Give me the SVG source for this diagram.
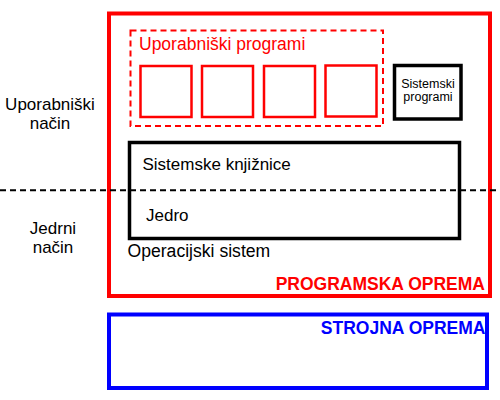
<svg xmlns="http://www.w3.org/2000/svg" width="500" height="400" viewBox="0 0 500 400">
<style>
text{font-family:"Liberation Sans",Arial,sans-serif;}
.lbl{font-size:17px;fill:#000;}
.mid{text-anchor:middle;}
.big{font-size:17.5px;font-weight:bold;text-anchor:end;}
.app{fill:#fff;stroke:#ff0000;stroke-width:2.5;}
.sp{font-size:12.5px;text-anchor:middle;}
</style>
<rect width="500" height="400" fill="#fff"/>
<g id="programska-oprema">
<rect x="109" y="13.5" width="381" height="282.5" fill="none" stroke="#ff0000" stroke-width="4"/>
<text class="big" x="485" y="290" fill="#ff0000">PROGRAMSKA OPREMA</text>
</g>
<g id="strojna-oprema">
<rect x="109" y="314.5" width="378" height="73.5" fill="none" stroke="#0000ff" stroke-width="4"/>
<text class="big" x="485.5" y="334" fill="#0000ff">STROJNA OPREMA</text>
</g>
<g id="uporabniski-programi">
<rect x="130.5" y="30.5" width="252.5" height="95.5" fill="none" stroke="#ff0000" stroke-width="2" stroke-dasharray="6,4"/>
<text x="139" y="50" style="font-size:17.5px" fill="#ff0000">Uporabniški programi</text>
</g>
<g id="app1"><rect class="app" x="140.5" y="66" width="51" height="51"/></g>
<g id="app2"><rect class="app" x="202" y="66" width="51" height="51"/></g>
<g id="app3"><rect class="app" x="264" y="66" width="51" height="51"/></g>
<g id="app4"><rect class="app" x="325.5" y="65.5" width="51" height="51"/></g>
<g id="sistemski-programi">
<rect x="394.5" y="65.5" width="66.5" height="53.5" fill="#fff" stroke="#000" stroke-width="3.5"/>
<text class="sp" x="428" y="88">Sistemski<tspan x="428" dy="12.5">programi</tspan></text>
</g>
<g id="operacijski-sistem">
<rect x="129.5" y="142.5" width="330" height="96" fill="none" stroke="#000" stroke-width="3.5"/>
<text class="lbl" x="142.5" y="169.5">Sistemske knjižnice</text>
<text class="lbl" x="146" y="220.5">Jedro</text>
<text class="lbl" x="127.5" y="256.5" style="font-size:17.6px">Operacijski sistem</text>
</g>
<g id="connectors">
<line x1="0" y1="190.3" x2="500" y2="190.3" stroke="#000" stroke-width="2" stroke-dasharray="6,4"/>
</g>
<g id="uporabniski-nacin">
<text class="lbl mid" x="50" y="109.5">Uporabniški<tspan x="50" dy="19">način</tspan></text>
</g>
<g id="jedrni-nacin">
<text class="lbl mid" x="53" y="233.5">Jedrni<tspan x="53" dy="19">način</tspan></text>
</g>
</svg>
